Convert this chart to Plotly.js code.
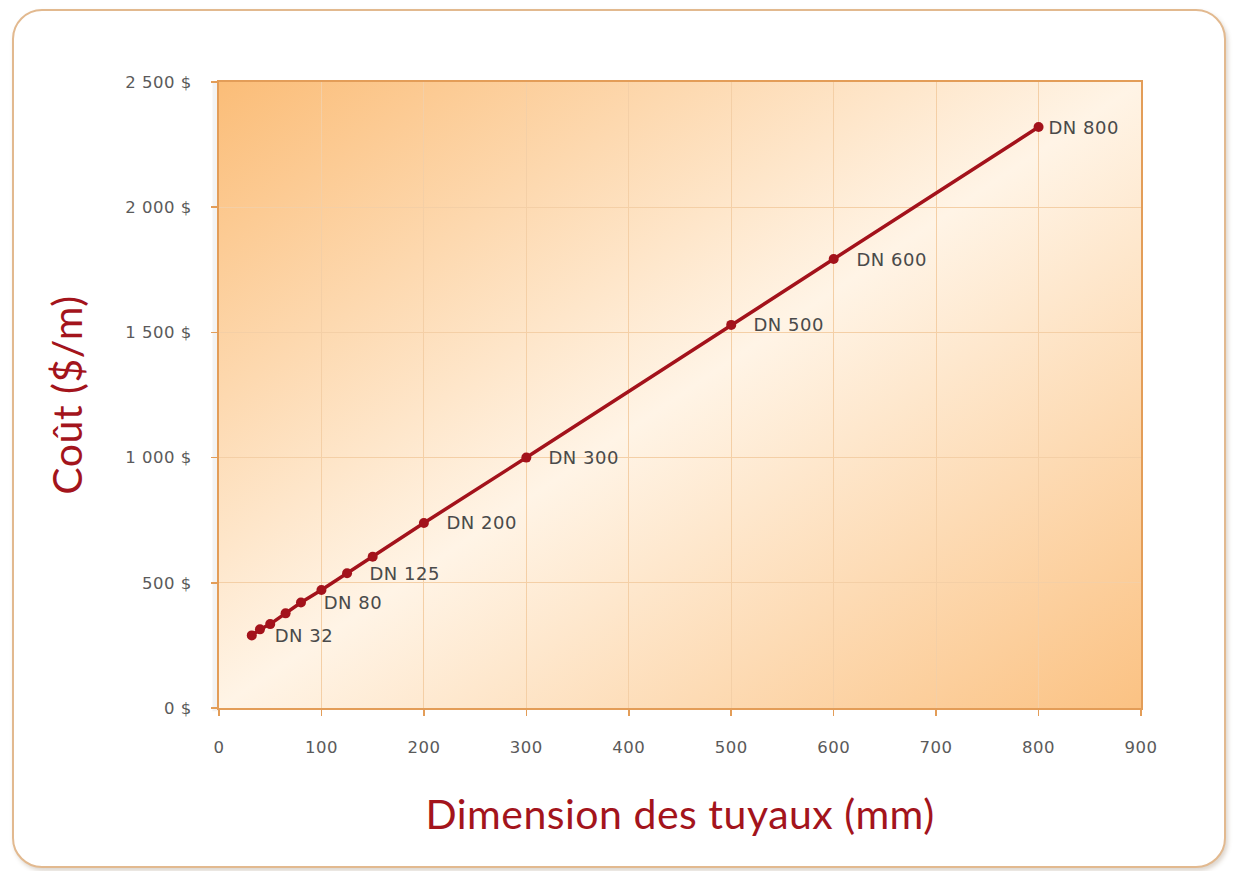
<!DOCTYPE html>
<html>
<head>
<meta charset="utf-8">
<script src="https://cdn.plot.ly/plotly-3.0.1.min.js"></script>
<style>
  html, body { margin: 0; padding: 0; background: #ffffff; }
  body { width: 1233px; height: 871px; position: relative; overflow: hidden; }
  #card {
    position: absolute; left: 12px; top: 9px; width: 1210px; height: 855px;
    border: 2px solid #e2b98f; border-radius: 30px; background: #ffffff;
    box-shadow: 2px 3px 4px rgba(120, 90, 60, 0.25);
  }
  #chart { position: absolute; left: 0; top: 0; width: 1233px; height: 871px; }
  #chart text { letter-spacing: 0.5px; }
</style>
</head>
<body>
<div id="card"></div>
<div id="chart"></div>
<script>
// Pipe nominal diameters (mm) and cost ($/m)
const diameters = [32, 40, 50, 65, 80, 100, 125, 150, 200, 300, 500, 600, 800];
const costs      = [290, 314, 335, 378, 421, 471, 538, 604, 739, 1000, 1530, 1793, 2320];
const pointLabels = ["DN 32", "", "", "", "DN 80", "", "DN 125", "", "DN 200", "DN 300", "DN 500", "DN 600", "DN 800"];

const xTickVals = [0, 100, 200, 300, 400, 500, 600, 700, 800, 900];
const yTickVals = [0, 500, 1000, 1500, 2000, 2500];
const yTickText = ["0 $", "500 $", "1 000 $", "1 500 $", "2 000 $", "2 500 $"];

const red = "#a3121b";
const tickFont = { family: "DejaVu Sans, Verdana, sans-serif", size: 16.5, color: "#5a5a5a" };
const titleFont = { family: "Lato, 'Open Sans', sans-serif", size: 41, color: "#a3141c" };

const bgSvg =
  "<svg xmlns='http://www.w3.org/2000/svg' width='100' height='100' preserveAspectRatio='none'>" +
  "<defs><linearGradient id='g' x1='0' y1='0' x2='1' y2='1'>" +
  "<stop offset='0' stop-color='#fbbd78'/>" +
  "<stop offset='0.5' stop-color='#fff4e6'/>" +
  "<stop offset='1' stop-color='#fbc283'/>" +
  "</linearGradient></defs>" +
  "<rect width='100' height='100' fill='url(#g)'/></svg>";
const bgUri = "data:image/svg+xml;charset=utf-8," + encodeURIComponent(bgSvg);

const trace = {
  x: diameters,
  y: costs,
  type: "scatter",
  mode: "lines+markers",
  line: { color: red, width: 3.5 },
  marker: { color: red, size: 10 },
  hoverinfo: "x+y",
  cliponaxis: false
};

const annotations = [];
pointLabels.forEach((t, i) => {
  if (!t) return;
  annotations.push({
    x: diameters[i], y: costs[i], xref: "x", yref: "y",
    text: t, showarrow: false, xanchor: "left", yanchor: "middle",
    xshift: i === pointLabels.length - 1 ? 9 : 22,
    font: { family: "DejaVu Sans, Verdana, sans-serif", size: 18, color: "#4a4a4a" }
  });
});

const layout = {
  width: 1233, height: 871,
  margin: { l: 219, r: 92, t: 82, b: 163 },
  paper_bgcolor: "rgba(0,0,0,0)",
  plot_bgcolor: "rgba(0,0,0,0)",
  showlegend: false,
  images: [{
    source: bgUri, xref: "paper", yref: "paper",
    x: 0, y: 1, sizex: 1, sizey: 1, xanchor: "left", yanchor: "top",
    sizing: "stretch", layer: "below"
  }],
  shapes: [{
    type: "rect", xref: "paper", yref: "paper",
    x0: -0.007, x1: 0, y0: -0.005, y1: 1,
    fillcolor: "rgba(90,90,90,0.07)", line: { width: 0 }, layer: "below"
  }],
  xaxis: {
    range: [0, 900], tickvals: xTickVals,
    showgrid: true, gridcolor: "#f4cfa6", gridwidth: 1.2,
    zeroline: false, showline: true, linecolor: "#e39d58", linewidth: 2, mirror: true,
    ticks: "outside", ticklen: 6, tickcolor: "#e39d58", tickwidth: 1.5,
    ticklabelstandoff: 17,
    tickfont: tickFont,
    title: { text: "Dimension des tuyaux (mm)", font: titleFont, standoff: 45 }
  },
  yaxis: {
    range: [0, 2500], tickvals: yTickVals, ticktext: yTickText,
    showgrid: true, gridcolor: "#f4cfa6", gridwidth: 1.2,
    zeroline: false, showline: true, linecolor: "#e39d58", linewidth: 2, mirror: true,
    ticks: "outside", ticklen: 6, tickcolor: "#e39d58", tickwidth: 1.5,
    ticklabelstandoff: 16,
    tickfont: tickFont,
    title: { text: "Coût ($/m)", font: titleFont, standoff: 33 }
  },
  annotations: annotations
};

Plotly.newPlot("chart", [trace], layout, { displayModeBar: false, staticPlot: true });
</script>
</body>
</html>
